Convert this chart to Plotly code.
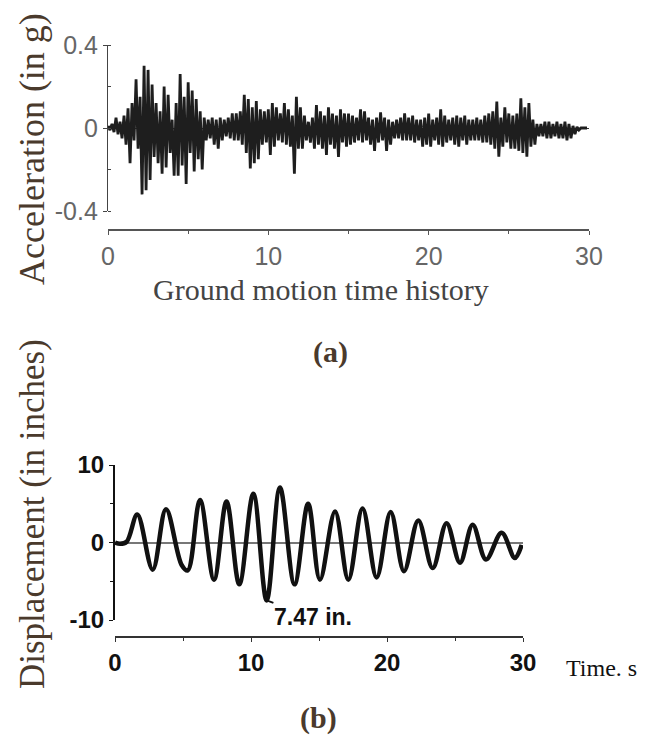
import numpy as np
import plotly.graph_objects as go

# ---------------- data ----------------
# Ground acceleration (g), alternating upper/lower excursions sampled every 0.125 s
accel_dt = 0.125
accel_g = [
    0.01, -0.01, 0.02, -0.02, 0.05, -0.03, 0.03, -0.05,
    0.06, -0.08, 0.095, -0.17, 0.12, -0.06, 0.235, -0.10,
    0.15, -0.32, 0.30, -0.30, 0.28, -0.25, 0.21, -0.14,
    0.12, -0.17, 0.08, -0.22, 0.20, -0.19, 0.16, -0.12,
    0.04, -0.23, 0.12, -0.23, 0.26, -0.18, 0.15, -0.27,
    0.22, -0.12, 0.18, -0.21, 0.14, -0.15, 0.08, -0.20,
    0.05, -0.06, 0.04, -0.05, 0.05, -0.08, 0.04, -0.10,
    0.05, -0.06, 0.04, -0.04, 0.05, -0.05, 0.07, -0.06,
    0.07, -0.06, 0.08, -0.08, 0.16, -0.12, 0.14, -0.195,
    0.10, -0.17, 0.13, -0.15, 0.09, -0.08, 0.08, -0.07,
    0.09, -0.13, 0.12, -0.09, 0.10, -0.06, 0.07, -0.07,
    0.12, -0.08, 0.09, -0.09, 0.06, -0.22, 0.15, -0.10,
    0.10, -0.10, 0.06, -0.06, 0.03, -0.07, 0.05, -0.10,
    0.11, -0.08, 0.08, -0.10, 0.06, -0.13, 0.10, -0.08,
    0.07, -0.10, 0.06, -0.14, 0.09, -0.07, 0.07, -0.09,
    0.07, -0.08, 0.06, -0.07, 0.05, -0.06, 0.09, -0.07,
    0.08, -0.06, 0.05, -0.08, 0.04, -0.11, 0.05, -0.07,
    0.075, -0.06, 0.05, -0.11, 0.04, -0.08, 0.03, -0.05,
    0.04, -0.05, 0.05, -0.06, 0.07, -0.06, 0.05, -0.06,
    0.06, -0.07, 0.04, -0.06, 0.04, -0.09, 0.05, -0.08,
    0.07, -0.09, 0.04, -0.06, 0.05, -0.08, 0.09, -0.09,
    0.06, -0.07, 0.04, -0.06, 0.05, -0.08, 0.06, -0.09,
    0.05, -0.06, 0.06, -0.08, 0.04, -0.06, 0.04, -0.06,
    0.05, -0.06, 0.04, -0.07, 0.06, -0.07, 0.07, -0.08,
    0.08, -0.10, 0.127, -0.138, 0.05, -0.09, 0.10, -0.07,
    0.07, -0.10, 0.06, -0.10, 0.07, -0.11, 0.143, -0.12,
    0.10, -0.138, 0.12, -0.09, 0.04, -0.08, 0.02, -0.04,
    0.02, -0.04, 0.03, -0.05, 0.03, -0.05, 0.02, -0.04,
    0.03, -0.05, 0.02, -0.05, 0.03, -0.06, 0.02, -0.05,
    0.01, -0.03, 0.005, -0.01, 0.0, 0.0, 0.0, 0.0,
]
accel_t = np.arange(len(accel_g)) * accel_dt

# Displacement response (inches): turning points of the oscillation
disp_t = [0.0, 0.37, 0.86, 1.64, 2.77, 3.75, 4.9, 5.35, 6.25, 7.28, 8.2, 9.14,
          10.17, 11.15, 12.13, 13.2, 14.2, 15.07, 16.18, 17.16, 18.2, 19.24,
          20.27, 21.25, 22.3, 23.36, 24.38, 25.37, 26.3, 27.28, 28.43, 29.4, 29.9]
disp_in = [0.0, -0.17, 0.1, 3.6, -3.5, 4.3, -2.9, -3.6, 5.5, -4.8, 5.3, -5.4,
           6.3, -7.47, 7.1, -5.4, 5.0, -4.8, 4.0, -4.8, 4.4, -4.5,
           3.95, -3.7, 2.85, -3.3, 2.5, -2.6, 2.3, -2.2, 1.25, -2.0, -0.3]

peak_label = "7.47 in."
peak_t = 11.15
peak_d = -7.47

accel_ticks = [-0.4, 0, 0.4]
accel_ticktext = ["-0.4", "0", "0.4"]
time_ticks = [0, 10, 20, 30]
disp_ticks = [-10, 0, 10]
disp_ticktext = ["-10", "0", "10"]

# ---------------- layout helpers ----------------
W, H = 654, 743
OFF = 8  # page body margin
def px(x):
    return (x - OFF) / W
def py(y):
    return 1 - (y - OFF) / H

GREY = "#555555"
BROWN = "#4a3a2c"
SANS = "Liberation Sans, Arial, sans-serif"
SERIF = "Liberation Serif, Times New Roman, serif"

fig = go.Figure()
fig.add_trace(go.Scatter(x=accel_t, y=accel_g, mode="lines",
                         line=dict(color="#1e1e1e", width=2.8),
                         xaxis="x", yaxis="y", hoverinfo="skip"))
fig.add_trace(go.Scatter(x=disp_t, y=disp_in, mode="lines",
                         line=dict(color="#111111", width=4.5, shape="spline", smoothing=1.0),
                         xaxis="x2", yaxis="y2", hoverinfo="skip"))

fig.update_layout(
    width=W, height=H, autosize=False,
    margin=dict(l=0, r=0, t=0, b=0, pad=0, autoexpand=False),
    paper_bgcolor="white", plot_bgcolor="white",
    showlegend=False,
    xaxis=dict(domain=[px(108), px(589)], range=[0, 30], anchor="free",
               position=py(230), showgrid=False, zeroline=False, automargin=False,
               showline=True, linecolor=GREY, linewidth=1.5,
               tickmode="array", tickvals=time_ticks, ticks="outside",
               ticklen=4, tickcolor=GREY,
               minor=dict(dtick=5, ticks="outside", ticklen=3, tickcolor=GREY),
               tickfont=dict(family=SANS, size=25, color="#666666")),
    yaxis=dict(domain=[py(211), py(45)], range=[-0.4, 0.4], anchor="x",
               showgrid=False, zeroline=True, zerolinecolor="#333333", zerolinewidth=1.2,
               showline=True, linecolor="#444444", linewidth=1.2, automargin=False,
               tickmode="array", tickvals=accel_ticks, ticktext=accel_ticktext,
               ticks="outside", ticklen=4, tickcolor="#444444",
               minor=dict(dtick=0.2, ticks="inside", ticklen=3, tickcolor="#444444"),
               tickfont=dict(family=SANS, size=25, color="#666666")),
    xaxis2=dict(domain=[px(115), px(523)], range=[0, 30], anchor="free",
                position=py(637), showgrid=False, zeroline=False, automargin=False,
                showline=True, linecolor="#333333", linewidth=2,
                tickmode="array", tickvals=time_ticks, ticks="outside",
                ticklen=4, tickcolor="#333333",
                minor=dict(dtick=5, ticks="outside", ticklen=3, tickcolor="#333333"),
                tickfont=dict(family=SANS, size=24, color="#111111", weight="bold")),
    yaxis2=dict(domain=[py(620), py(465)], range=[-10, 10], anchor="x2",
                showgrid=False, zeroline=True, zerolinecolor="#777777", zerolinewidth=2,
                showline=True, linecolor="#111111", linewidth=2, automargin=False,
                tickmode="array", tickvals=disp_ticks, ticktext=disp_ticktext,
                ticks="outside", ticklen=4, tickcolor="#111111",
                minor=dict(dtick=5, ticks="outside", ticklen=3, tickcolor="#111111"),
                tickfont=dict(family=SANS, size=24, color="#111111", weight="bold")),
)

annotations = [
    dict(text="Acceleration (in g)", x=px(32), y=py(149), textangle=-90,
         font=dict(family=SERIF, size=36, color=BROWN)),
    dict(text="Ground motion time history", x=px(321), y=py(290),
         font=dict(family=SERIF, size=30, color="#444444")),
    dict(text="<b>(a)</b>", x=px(330), y=py(352),
         font=dict(family=SERIF, size=30, color=BROWN)),
    dict(text="Displacement (in inches)", x=px(32), y=py(514), textangle=-90,
         font=dict(family=SERIF, size=35, color=BROWN)),
    dict(text="Time. s", x=px(601), y=py(668),
         font=dict(family=SERIF, size=24, color="#111111")),
    dict(text="<b>(b)</b>", x=px(318), y=py(718),
         font=dict(family=SERIF, size=30, color=BROWN)),
]
for a in annotations:
    a.update(xref="paper", yref="paper", showarrow=False,
             xanchor="center", yanchor="middle")
    fig.add_annotation(**a)

fig.add_annotation(x=peak_t, y=peak_d, xref="x2", yref="y2", text="<b>%s</b>" % peak_label,
                   showarrow=True, arrowhead=0, arrowwidth=2, arrowcolor="#111111",
                   ax=46, ay=17, standoff=0,
                   font=dict(family=SANS, size=23, color="#111111"))

fig.write_html("out.html")
